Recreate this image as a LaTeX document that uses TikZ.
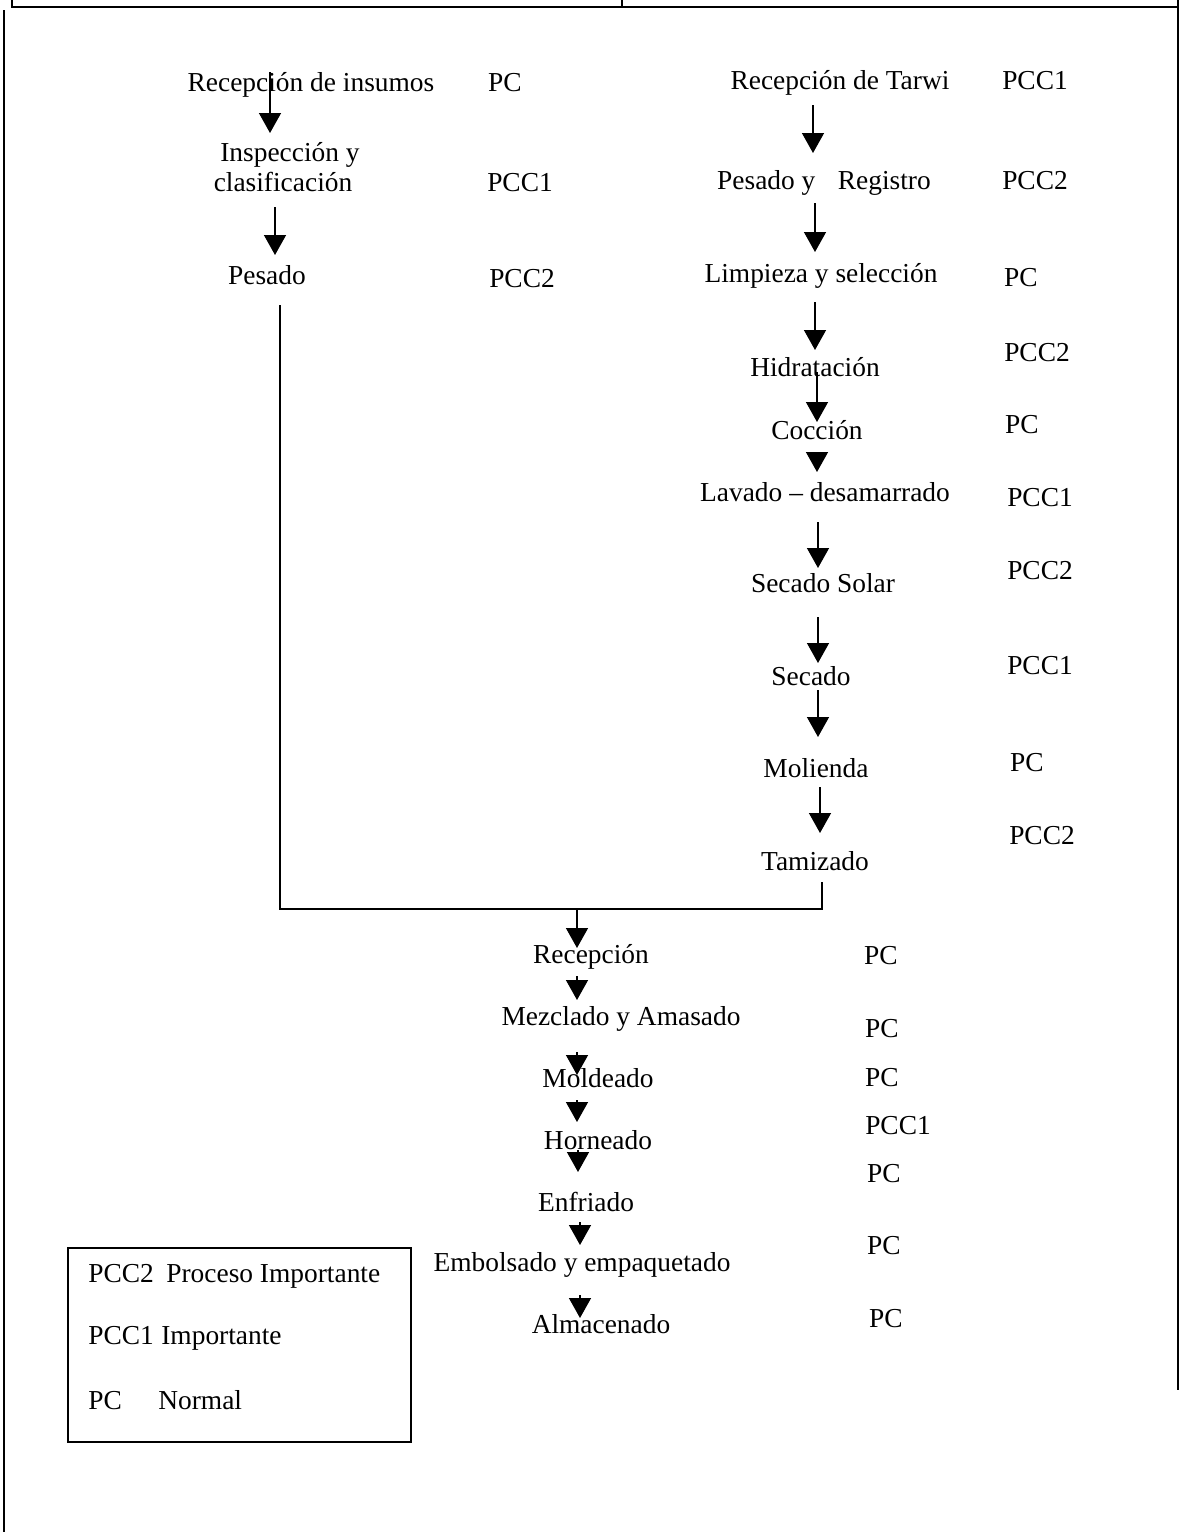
\documentclass[tikz,border=0pt]{standalone}
\usepackage{fontspec}
\setmainfont{Liberation Serif}
\usetikzlibrary{arrows.meta}
\begin{document}
\begin{tikzpicture}[x=0.02cm,y=-0.02cm,
  every node/.style={font=\fontsize{15.6}{19}\selectfont, inner sep=0pt,
                     text height=1.5ex, text depth=.25ex},
  rule/.style={line width=0.9pt},
  link/.style={line width=0.8pt},
  flow/.style={line width=0.8pt, -{Triangle[length=0.4cm,width=0.44cm]}},
]
\useasboundingbox (0,0) rectangle (1183,1532);

% page frame and the cut-off table row above
\draw[rule] (12,0) -- (12,7) -- (1178,7);
\draw[rule] (622,0) -- (622,7);
\draw[rule] (1178,0) -- (1178,1390);
\draw[rule] (4,10) -- (4,1532);

\begin{scope}[every node/.append style={yshift=-0.08cm}]
% ---- left branch: insumos
\node (ins)   at (311,82)  {Recepción de insumos};
\node (insL)  at (505,82)  {PC};
\node (insp1) at (290,152) {Inspección y};
\node (insp2) at (283,182) {clasificación};
\node (inspL) at (520,182) {PCC1};
\node (pes)   at (267,275) {Pesado};
\node (pesL)  at (522,278) {PCC2};

% ---- right branch: tarwi
\node (tar)  at (840,80)  {Recepción de Tarwi};
\node (tarL) at (1035,80) {PCC1};
\node (reg)  at (824,180) {Pesado y\hspace{0.82em}Registro};
\node (regL) at (1035,180) {PCC2};
\node (lim)  at (821,273) {Limpieza y selección};
\node (limL) at (1021,277) {PC};
\node (hid)  at (815,367) {Hidratación};
\node (hidL) at (1037,352) {PCC2};
\node (coc)  at (817,430) {Cocción};
\node (cocL) at (1022,424) {PC};
\node (lav)  at (825,492) {Lavado -- desamarrado};
\node (lavL) at (1040,497) {PCC1};
\node (sol)  at (823,583) {Secado Solar};
\node (solL) at (1040,570) {PCC2};
\node (sec)  at (811,676) {Secado};
\node (secL) at (1040,665) {PCC1};
\node (mol)  at (816,768) {Molienda};
\node (molL) at (1027,762) {PC};
\node (tam)  at (815,861) {Tamizado};
\node (tamL) at (1042,835) {PCC2};

% ---- common line: product
\node (rec)   at (591,954)  {Recepción};
\node (recL)  at (881,955)  {PC};
\node (mez)   at (621,1016) {Mezclado y Amasado};
\node (mezL)  at (882,1028) {PC};
\node (mold)  at (598,1078) {Moldeado};
\node (moldL) at (882,1077) {PC};
\node (hor)   at (598,1140) {Horneado};
\node (horL)  at (898,1125) {PCC1};
\node (enf)   at (586,1202) {Enfriado};
\node (enfL)  at (884,1173) {PC};
\node (emb)   at (582,1262) {Embolsado y empaquetado};
\node (embL)  at (884,1245) {PC};
\node (alm)   at (601,1324) {Almacenado};
\node (almL)  at (886,1318) {PC};

% ---- legend entries
\node[anchor=west] (k2) at (88,1273)  {PCC2};
\node[anchor=west] (d2) at (166,1273) {Proceso Importante};
\node[anchor=west] (k1) at (88,1335)  {PCC1};
\node[anchor=west] (d1) at (161,1335) {Importante};
\node[anchor=west] (k0) at (88,1400)  {PC};
\node[anchor=west] (d0) at (158,1400) {Normal};
\end{scope}

% ---- legend frame
\node[draw, line width=0.9pt, minimum width=6.86cm, minimum height=3.88cm,
      text height=, text depth=] (legend) at (239.5,1345) {};

% ---- step arrows (start and tip of each)
\foreach \n/\x/\a/\b in {
    la/270/72/133, lb/275/207/255,
    ra/813/105/153, rb/815/203/252, rc/815/302/350, rd/817/372/422,
    re/817/452/472, rf/818/522/568, rg/818/617/663, rh/818/690/737,
    ri/820/787/833,
    ba/577/976/1000, bb/577/1052/1075, bc/577/1100/1122, bd/578/1150/1172,
    be/580/1222/1245, bf/580/1295/1318}
{
  \coordinate (\n-from) at (\x,\a);
  \coordinate (\n-to)   at (\x,\b);
  \draw[flow] (\n-from) -- (\n-to);
}

% ---- joining both branches into the product line
\coordinate (pesOut) at (280,305);
\coordinate (tamOut) at (822,882);
\coordinate (joinL)  at (280,909);
\coordinate (joinR)  at (822,909);
\coordinate (joinM)  at (577,909);
\coordinate (recIn)  at (577,948);
\draw[link] (pesOut) -- (joinL) -- (joinR) -- (tamOut);
\draw[flow] (joinM) -- (recIn);
\end{tikzpicture}
\end{document}
